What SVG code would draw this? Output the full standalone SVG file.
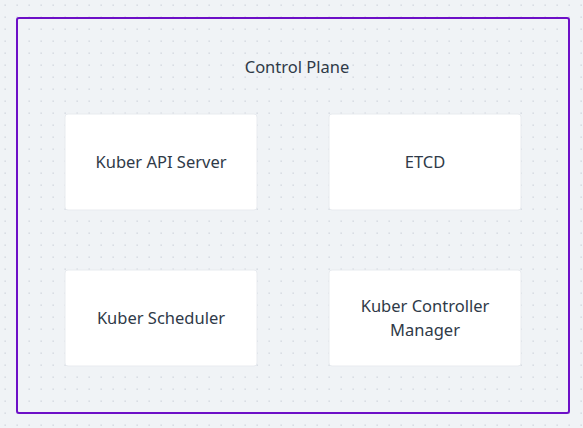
<svg xmlns="http://www.w3.org/2000/svg" width="583" height="428" viewBox="0 0 583 428">
<style>
.node rect{fill:#ffffff;stroke:#e8ebef;stroke-width:1}
text{font-family:"Noto Sans","Liberation Sans",sans-serif;font-size:16.5px;fill:#2f3a48;text-anchor:middle;dominant-baseline:central}
</style>
<defs>
<pattern id="dots" x="0" y="0" width="12" height="12" patternUnits="userSpaceOnUse">
<rect x="4.5" y="4.5" width="1.3" height="1.3" fill="#ccd1d9"/>
</pattern>
</defs>
<rect width="583" height="428" fill="#f0f3f6"/>
<rect width="583" height="428" fill="url(#dots)"/>
<g id="control-plane">
<rect x="17" y="18" width="552" height="395" rx="2" fill="none" stroke="#6d0fc7" stroke-width="2"/>
<text x="297" y="66">Control Plane</text>
</g>
<g id="api-server" class="node">
<rect x="65" y="114" width="192" height="96" rx="3"/>
<text x="161" y="161">Kuber API Server</text>
</g>
<g id="etcd" class="node">
<rect x="329" y="114" width="192" height="96" rx="3"/>
<text x="425" y="161">ETCD</text>
</g>
<g id="scheduler" class="node">
<rect x="65" y="270" width="192" height="96" rx="3"/>
<text x="161" y="317">Kuber Scheduler</text>
</g>
<g id="controller-manager" class="node">
<rect x="329" y="270" width="192" height="96" rx="3"/>
<text x="425" y="305">Kuber Controller</text>
<text x="425" y="329">Manager</text>
</g>
<g id="connectors"></g>
</svg>
